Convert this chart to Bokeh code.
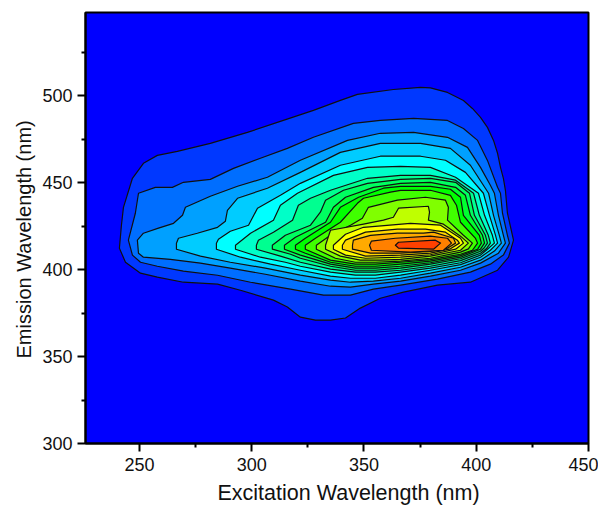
from bokeh.plotting import figure
from bokeh.embed import file_html
from bokeh.resources import INLINE
from bokeh.models import FixedTicker, Range1d, Title

X_TICKS = [250, 300, 350, 400, 450]
X_MINOR = [275, 325, 375, 425]
Y_TICKS = [300, 350, 400, 450, 500]
Y_MINOR = [325, 375, 425, 475, 525]
X_LABEL = "Excitation Wavelength (nm)"
Y_LABEL = "Emission Wavelength (nm)"

BACKGROUND = "#0000FF"
LEVEL_COLORS = ["#0038FF", "#006EFF", "#00A0FF", "#00CCFF", "#00FFFF", "#00FFC8",
                "#00FF90", "#00FF60", "#00FF30", "#00FF00", "#40FF00", "#80FF00",
                "#BFFF00", "#FFFF00", "#FFD500", "#FFAA00", "#FF8000", "#FF4000"]

L01 = [(241.1,412.4),(242,425.6),(242.9,435.9),(246.9,452.6),(251.8,461.2),(258,465.8),(266.9,468.1),(281.6,472.7),(298.1,479),(314.1,485.9),(327.5,491.7),(339.5,497.4),(347.1,500.9),(363.1,503.7),(375.2,504.9),(379.6,504.6),(387.2,502),(390.8,499.7),(394.3,497.4),(398.3,492.8),(401.9,487.7),(405,481.9),(407.7,474.4),(409.5,467),(410.8,458.9),(412.1,452.6),(413,445.7),(413.9,432.5),(416.6,417),(414.4,407.2),(409.5,399.7),(397.4,392.8),(382.7,391.1),(367.6,387.1),(357.3,383.6),(348.4,377.9),(341.8,372.2),(335.1,371),(328.4,371),(321.7,372.7),(315.9,378.5),(309.7,382.5),(295,388.2),(284.8,391.7),(269.6,392.8),(258,395.7),(250.5,398),(243.8,404.3)]
L02 = [(245.1,417),(248.2,432.5),(249.6,444),(257.1,447.4),(264.7,447.4),(269.6,450.3),(281.6,452),(291.9,458.3),(303.9,464.1),(315.9,469.8),(327.5,476.2),(345.3,484.2),(357.3,485.9),(372.1,487.1),(387.2,485.9),(394.3,481.3),(400.6,474.4),(405,462.9),(409.5,447.4),(410.8,444),(411.7,432.5),(413.9,419.8),(414.8,415.3),(412.1,408.4),(406.3,403.2),(397.4,398.6),(382.7,394.6),(366.3,391.1),(354.2,388.8),(344,385.4),(332,385.4),(317.3,388.8),(299.5,392.8),(284.8,396.8),(269.6,399.2),(258,402),(250.5,404.3),(246.9,408.4)]
L03 = [(249.1,417),(251.8,421),(258.5,423.9),(265.2,426.7),(269.2,431.3),(270.5,435.9),(281.6,442.3),(293.7,448),(307,453.2),(321.7,463),(342.7,474.4),(357.3,478.5),(372.1,479),(387.2,476.2),(396.1,470.4),(401.9,458.9),(406.3,448.6),(408.1,444),(409.9,431.3),(412.1,419.8),(413,415.3),(409.9,409.5),(401.9,403.8),(393,399.7),(379.6,396.3),(366.3,393.4),(354.2,391.7),(344,390),(335.1,390.5),(321.7,393.4),(306.1,397.4),(290.5,400.9),(277.2,403.8),(263.8,406),(251.8,407.2),(249.6,409.5)]
L04 = [(266.5,415.2),(267.4,418.1),(275.8,421),(284.8,424.4),(288.3,427.9),(289.2,434.2),(293.7,441.1),(307,446.9),(321.7,456),(339.5,467.5),(357.3,472.7),(375.2,472.7),(388.5,469.8),(397.4,460.1),(405.5,444),(407.7,431.3),(410.3,419.8),(411.2,415.3),(408.1,410.7),(401.9,405.5),(393,401.4),(379.6,398),(366.3,395.1),(354.2,393.4),(344,392.8),(335.1,394),(321.7,396.9),(306.1,400.9),(290.5,404.3),(277.2,407.8),(266.5,411.8)]
L05 = [(284.3,415.2),(285.2,417.5),(290.5,422.1),(298.6,425.6),(302.6,435.4),(312.8,442.8),(321.7,449.7),(339.5,460.1),(357.3,465.3),(375.2,465.3),(386.3,463),(395.2,456),(403.2,444),(405.9,431.3),(408.6,419.8),(409.5,415.3),(406.3,411.2),(401.9,407.2),(393,402.9),(379.6,399.7),(366.3,396.9),(355.1,395.1),(344,395.1),(335.1,396.3),(321.7,399.7),(308.4,403.2),(295,407.2),(284.3,411.8)]
L06 = [(292.8,414.1),(299.5,421),(309.7,428.5),(312.8,437.1),(320.4,444),(336.4,454.3),(351.6,458.9),(366.3,459.5),(379.6,458.9),(390.8,453.2),(401,444),(403.7,431.3),(407.2,419.8),(408.1,415.3),(405,411.8),(401.9,408.4),(393,404),(379.6,400.9),(366.3,398.6),(355.1,396.9),(346.2,396.9),(335.1,398.6),(321.7,402),(315,404.3),(303.9,407.2),(292.8,411.8)]
L07 = [(302.1,414.1),(303,417),(309.7,421.6),(318.2,428.5),(320.8,437.1),(326.2,441.1),(335.1,445.7),(351.6,452.6),(366.3,454.3),(379.6,454.3),(390.8,451.5),(398.8,444),(401.4,431.3),(405.4,419.8),(406.3,415.3),(404.5,412),(401.9,409.5),(393,405.2),(379.6,402),(366.3,399.7),(355.1,398.6),(346.2,398.6),(335.1,400.3),(321.7,404.3),(312.8,407.8),(302.1,411.8)]
L08 = [(309.2,414.1),(315,419.8),(326.2,425.6),(330.6,433.1),(332.9,440),(340.9,445.7),(351.6,449.7),(366.3,452),(379.6,452.6),(390.8,450.3),(397,444),(399.2,431.3),(404.1,419.8),(405,415.3),(403.5,412.5),(401.9,410.6),(393,406.3),(379.6,403.2),(366.3,400.9),(355.1,399.7),(346.2,399.7),(335.1,402),(321.7,406.6),(317.3,408.9),(309.2,411.8)]
L09 = [(314.6,414.1),(319.5,418.7),(332.9,427.3),(336.4,435.9),(341.8,441.7),(354.2,447.4),(366.3,449.7),(379.6,450.3),(390.8,447.4),(395.2,442.8),(397.4,431.3),(402.8,419.8),(403.7,415.3),(401.9,411.8),(393,407.2),(379.6,404),(366.3,402),(355.1,400.9),(346.2,400.9),(335.1,403.2),(321.7,408.4),(314.6,411.8)]
L10 = [(319.5,414.1),(323.9,418.1),(335.1,427.3),(339.5,435.9),(347.6,441.7),(358.7,446.9),(366.3,448),(379.6,448),(388.5,446.3),(393,441.7),(394.3,431.3),(401.4,419.8),(402.3,415.3),(400.6,411.8),(393,408.1),(379.6,404.9),(366.3,403.2),(355.1,402),(346.2,402),(335.1,404.3),(323.9,409.5),(319.5,411.8)]
L11 = [(323.9,414.1),(328.4,418.1),(339.5,427.3),(347.1,438.2),(349.8,441.1),(361.8,444.6),(366.3,445.7),(379.6,445.7),(388.5,442.8),(391.2,437.1),(393,427.3),(399.7,418),(400.6,415.3),(398.3,411.2),(393,408.9),(379.6,405.8),(366.3,404.3),(355.1,403.2),(346.2,403.2),(335.1,405.5),(323.9,411.8)]
L12 = [(328.8,414.1),(335.1,419.8),(344,425.6),(349.3,429.6),(352,435.9),(364.9,440),(377.4,441.7),(386.3,440),(387.6,435.9),(387.2,428.5),(394.3,419.8),(398.3,415.3),(396.5,412),(393,410.1),(379.6,406.6),(366.3,404.9),(355.1,404.3),(346.2,404.3),(337.3,406.6),(328.8,411.8)]
L13 = [(332.9,414.1),(335.1,422.7),(349.8,426.2),(358.7,428.5),(363.1,430.2),(365.4,435.4),(378.7,436.5),(379.2,433.1),(378.7,428.5),(385.4,426.2),(393,419.3),(396.5,415.3),(393,411.2),(379.6,407.8),(366.3,406),(357.3,405.5),(348.4,405.5),(339.5,407.8),(332.9,411.8)]
L14 = [(336.4,414.1),(341.8,420.4),(349.8,424.4),(370.7,426.7),(384.1,425.6),(393,418.1),(394.3,415.3),(390.8,411.8),(379.6,408.6),(366.3,407.2),(350.7,406.6),(341.8,408.4),(336.4,411.8)]
L15 = [(340.4,414.1),(341.8,417),(350.7,421.6),(364.9,423.3),(377.4,423.3),(386.3,421.6),(391.6,417),(392.5,415.3),(388.5,412),(379.6,409.5),(366.3,408.4),(350.7,407.8),(340.4,411.8)]
L16 = [(344.9,414.1),(345.3,417),(352.9,419.8),(364.9,421),(376.5,421),(381,421.6),(389.9,418.1),(390.8,415.3),(387.2,412.4),(379.6,410.6),(366.3,409.5),(352.9,409.5),(344.9,411.8)]
L17 = [(352.5,414.1),(353.3,416.4),(364,418.1),(379.6,419.3),(387.2,418.1),(389,415.3),(385.4,411.2),(370.7,410.1),(353.3,411.2)]
L18 = [(364,414.1),(365.4,415.8),(381.8,417),(384.1,415.3),(381,411.8),(365.4,412.4)]

LEVELS = [L01, L02, L03, L04, L05, L06, L07, L08, L09, L10, L11, L12, L13, L14, L15, L16, L17, L18]

FONT = "Liberation Sans"

p = figure(width=598, height=503, output_backend="svg", toolbar_location=None,
           x_range=Range1d(226, 450), y_range=Range1d(300, 548),
           min_border_left=85, min_border_right=10, min_border_top=12, min_border_bottom=60,
           frame_width=503, frame_height=431, title=None)

p.background_fill_color = BACKGROUND
p.border_fill_color = "white"
p.grid.visible = False
p.outline_line_color = "black"
p.outline_line_width = 2

for poly, color in zip(LEVELS, LEVEL_COLORS):
    p.patch([q[0] for q in poly], [q[1] for q in poly], fill_color=color,
            line_color="#101010", line_width=1.2, line_join="round")

for ax, ticks, minor in ((p.xaxis[0], X_TICKS, X_MINOR),
                         (p.yaxis[0], Y_TICKS, Y_MINOR)):
    ax.ticker = FixedTicker(ticks=ticks, minor_ticks=minor)
    ax.major_label_text_font = FONT
    ax.major_label_text_font_size = "18px"
    ax.major_label_text_color = "#111111"
    ax.axis_line_width = 2
    ax.major_tick_line_width = 2
    ax.minor_tick_line_width = 2
    ax.major_tick_in = 0
    ax.major_tick_out = 8
    ax.minor_tick_in = 0
    ax.minor_tick_out = 4
    ax.major_label_standoff = 6
p.yaxis[0].major_label_standoff = 5

p.add_layout(Title(text=X_LABEL, align="left", offset=132, text_font=FONT,
                   text_font_size="21.5px", text_font_style="normal", text_color="#111111"), "below")
p.add_layout(Title(text=Y_LABEL, align="left", offset=85, text_font=FONT,
                   text_font_size="20px", text_font_style="normal", text_color="#111111"), "left")

open("out.html", "w").write(file_html(p, INLINE))
